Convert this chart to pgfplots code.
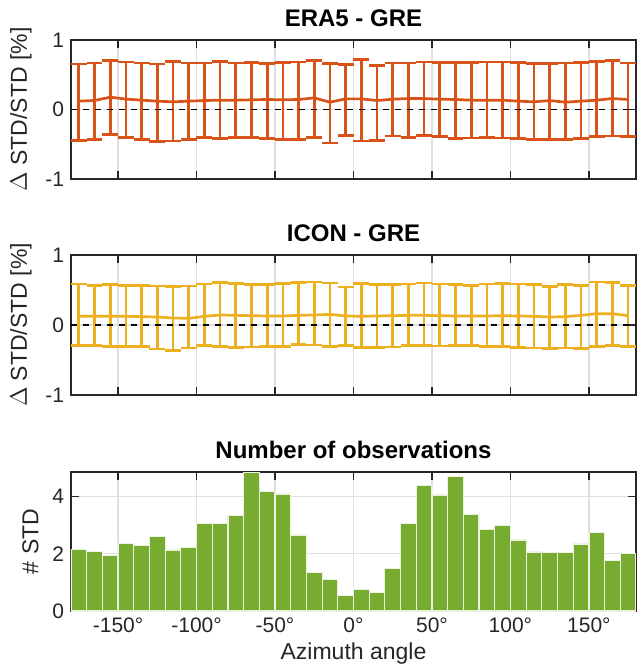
\documentclass[border=0pt]{standalone}
\usepackage{pgfplots}
\pgfplotsset{compat=1.18}
\usepackage{pgfplotstable}
\usepackage{fontspec}
\setmainfont{Liberation Sans}
\definecolor{morange}{RGB}{217,83,25}
\definecolor{myellow}{RGB}{237,177,32}
\definecolor{mgreen}{RGB}{119,172,48}
\definecolor{maxis}{RGB}{38,38,38}

\pgfplotstableread{
x m up lo
-175 0.12 0.655 -0.445
-165 0.13 0.670 -0.430
-155 0.177 0.710 -0.360
-145 0.15 0.685 -0.405
-135 0.134 0.670 -0.430
-125 0.12 0.655 -0.465
-115 0.11 0.690 -0.455
-105 0.12 0.670 -0.430
-95 0.129 0.670 -0.405
-85 0.134 0.690 -0.420
-75 0.134 0.670 -0.405
-65 0.14 0.675 -0.400
-55 0.144 0.665 -0.415
-45 0.14 0.675 -0.430
-35 0.144 0.685 -0.430
-25 0.167 0.710 -0.405
-15 0.105 0.660 -0.480
-5 0.153 0.645 -0.370
5 0.153 0.720 -0.455
15 0.129 0.630 -0.445
25 0.148 0.670 -0.380
35 0.158 0.670 -0.400
45 0.158 0.685 -0.375
55 0.148 0.680 -0.390
65 0.144 0.675 -0.420
75 0.134 0.675 -0.410
85 0.134 0.685 -0.405
95 0.134 0.685 -0.410
105 0.12 0.675 -0.420
115 0.11 0.665 -0.430
125 0.129 0.665 -0.430
135 0.105 0.670 -0.430
145 0.12 0.680 -0.415
155 0.134 0.695 -0.390
165 0.158 0.705 -0.380
175 0.144 0.670 -0.390
}\eradata

\pgfplotstableread{
x m up lo
-175 0.124 0.585 -0.295
-165 0.124 0.567 -0.290
-155 0.124 0.576 -0.305
-145 0.124 0.567 -0.305
-135 0.119 0.567 -0.310
-125 0.114 0.557 -0.343
-115 0.100 0.548 -0.367
-105 0.095 0.557 -0.330
-95 0.124 0.585 -0.295
-85 0.143 0.610 -0.305
-75 0.138 0.590 -0.320
-65 0.133 0.576 -0.314
-55 0.129 0.580 -0.310
-45 0.129 0.590 -0.305
-35 0.138 0.610 -0.280
-25 0.143 0.614 -0.286
-15 0.152 0.600 -0.305
-5 0.129 0.543 -0.295
5 0.124 0.590 -0.319
15 0.129 0.576 -0.319
25 0.133 0.576 -0.314
35 0.138 0.585 -0.290
45 0.138 0.600 -0.290
55 0.133 0.585 -0.300
65 0.129 0.576 -0.295
75 0.129 0.567 -0.295
85 0.129 0.585 -0.305
95 0.133 0.595 -0.305
105 0.129 0.585 -0.319
115 0.124 0.576 -0.329
125 0.114 0.548 -0.338
135 0.119 0.576 -0.329
145 0.138 0.567 -0.338
155 0.162 0.614 -0.305
165 0.162 0.610 -0.290
175 0.133 0.567 -0.305
}\icondata

\pgfplotstableread{
x n
-180 2.14
-170 2.07
-160 1.95
-150 2.36
-140 2.28
-130 2.60
-120 2.13
-110 2.22
-100 3.06
-90 3.06
-80 3.33
-70 4.85
-60 4.16
-50 4.08
-40 2.65
-30 1.35
-20 1.09
-10 0.54
0 0.75
10 0.65
20 1.49
30 3.05
40 4.39
50 4.05
60 4.68
70 3.36
80 2.85
90 2.99
100 2.48
110 2.06
120 2.04
130 2.04
140 2.34
150 2.75
160 1.77
170 2.01
180 2.01
}\histdata

\pgfplotsset{
  panel/.style={
    scale only axis, width=282.5pt,
    xmin=-180, xmax=180,
    xtick={-150,-100,-50,0,50,100,150},
    axis line style={maxis, line width=1pt},
    tick style={maxis, line width=0.8pt},
    major tick length=4pt,
    tick align=inside,
    grid=major, grid style={black!12, line width=0.7pt},
    /pgf/number format/assume math mode=true,
    tick label style={font=\fontsize{10.5}{12}\selectfont, text=maxis},
    label style={font=\fontsize{11.5}{13}\selectfont, text=maxis},
    title style={font=\bfseries\fontsize{12}{14}\selectfont, text=black, yshift=-3pt},
  },
  ebar/.style={
    line width=1.35pt, mark=none,
    error bars/.cd, y dir=both, y explicit,
    error bar style={line width=1.35pt},
    error mark options={rotate=90, line width=1.35pt, mark size=3.95pt},
  },
}

\begin{document}
\begin{tikzpicture}
% top
\begin{axis}[panel, at={(0,216pt)}, height=69.5pt,
  ymin=-1, ymax=1, ytick={-1,0,1}, xticklabels={},
  title={ERA5 - GRE}, ylabel={$\Delta$ STD/STD [\%]}]
\addplot[morange, ebar] table[x=x, y=m,
  y error plus expr=\thisrow{up}-\thisrow{m},
  y error minus expr=\thisrow{m}-\thisrow{lo}] {\eradata};
\addplot[black, dashed, line width=0.9pt] coordinates {(-180,0) (180,0)};
\end{axis}
% middle
\begin{axis}[panel, at={(0,108pt)}, height=70pt,
  ymin=-1, ymax=1, ytick={-1,0,1}, xticklabels={},
  title={ICON - GRE}, ylabel={$\Delta$ STD/STD [\%]}]
\addplot[myellow, ebar] table[x=x, y=m,
  y error plus expr=\thisrow{up}-\thisrow{m},
  y error minus expr=\thisrow{m}-\thisrow{lo}] {\icondata};
\addplot[black, dashed, line width=0.9pt] coordinates {(-180,0) (180,0)};
\end{axis}
% bottom
\begin{axis}[panel, at={(0,0)}, height=69.5pt,
  ymin=0, ymax=4.85, ytick={0,2,4},
  xticklabel={\pgfmathprintnumber{\tick}°},
  title={Number of observations}, ylabel={\# STD}, xlabel={Azimuth angle},
  xlabel style={yshift=2pt}]
\addplot[ybar interval, fill=mgreen, draw=white!85!mgreen, line width=0.6pt] table[x=x, y=n] {\histdata};
\node[anchor=south west, font=\fontsize{11}{12}\selectfont, text=maxis, inner sep=1pt] at (rel axis cs:0,1) {$\times$10\textsuperscript{4}};
\end{axis}
\pgfresetboundingbox
\path (-35.5pt,-30pt) rectangle (285.5pt,305.5pt);
\end{tikzpicture}
\end{document}
